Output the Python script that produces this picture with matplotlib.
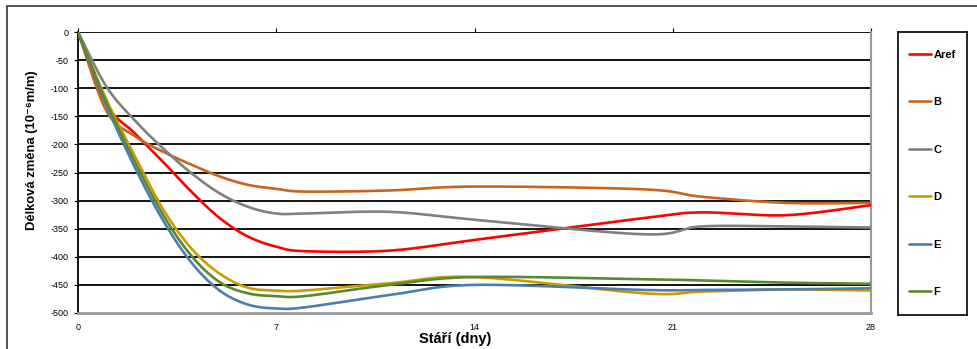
import numpy as np
import matplotlib
matplotlib.use("Agg")
import matplotlib.pyplot as plt
from matplotlib.patches import Rectangle

plt.rcParams['font.family'] = ['Liberation Sans', 'DejaVu Sans']
plt.rcParams['axes.unicode_minus'] = False

# measurement days
days = [0, 1, 2, 3, 4, 5, 6, 7, 8, 11, 14, 20, 22, 25, 28]

# length change (1e-6 m/m) for each mix
aref = [0, -128, -180, -231, -284, -331, -364, -382, -390, -389, -370, -331, -321, -326, -308]
b = [0, -140, -185, -213, -236, -257, -272, -279, -284, -282, -275, -280, -293, -304, -304]
c = [0, -97, -157, -207, -251, -287, -311, -323, -323, -320, -334, -360, -346, -346, -348]
d = [0, -120, -220, -315, -385, -430, -455, -460, -460, -447, -436, -465, -462, -458, -460]
e = [0, -130, -240, -335, -410, -460, -485, -492, -490, -468, -450, -459, -459, -458, -456]
f = [0, -125, -230, -325, -398, -445, -465, -470, -470, -450, -436, -440, -442, -446, -448]

names = ['Aref', 'B', 'C', 'D', 'E', 'F']
series = [aref, b, c, d, e, f]
colors = ['#FF0000', '#C8641E', '#808080', '#CC9B00', '#4A7EB0', '#578A30']

xticks = [0, 7, 14, 21, 28]
yticks = list(range(-500, 1, 50))


def smooth(x, y, n=30):
    # Bezier smoothing through every point (spreadsheet style)
    p = np.column_stack([x, y]).astype(float)
    p = np.vstack([p[0], p, p[-1]])
    out = []
    t = np.linspace(0, 1, n)[:, None]
    for i in range(1, len(p) - 2):
        p0, p3 = p[i], p[i + 1]
        p1 = p0 + (p[i + 1] - p[i - 1]) / 6
        p2 = p3 - (p[i + 2] - p[i]) / 6
        seg = ((1 - t) ** 3) * p0 + 3 * ((1 - t) ** 2) * t * p1 + 3 * (1 - t) * t ** 2 * p2 + t ** 3 * p3
        out.append(seg)
    seg = np.vstack(out)
    return seg[:, 0], seg[:, 1]


W, H = 977, 349
fig = plt.figure(figsize=(W / 100, H / 100), dpi=100)
ax = fig.add_axes([78 / W, 1 - 313 / H, (871 - 78) / W, (313 - 32) / H])

for yv in yticks[1:]:
    ax.axhline(yv, color='black', lw=1.3, zorder=1)

handles = []
for name, vals, col in zip(names, series, colors):
    xs, ys = smooth(days, vals)
    ln, = ax.plot(xs, ys, color=col, lw=1.9, label=name, zorder=3, solid_capstyle='round')
    handles.append(ln)

ax.set_xlim(0, 28)
ax.set_ylim(-500, 0)
ax.set_xticks(xticks)
ax.set_yticks(yticks)
ax.tick_params(axis='x', top=True, bottom=False, labeltop=False, labelbottom=True,
               direction='out', length=3, pad=4, labelsize=6.5, color='black')
ax.tick_params(axis='y', direction='out', length=3, pad=4, labelsize=6.5)

ax.spines['left'].set_color('black')
ax.spines['left'].set_linewidth(1.3)
ax.spines['top'].set_visible(False)
ax.spines['right'].set_color('#999999')
ax.spines['right'].set_linewidth(1.5)
ax.spines['bottom'].set_color('#999999')
ax.spines['bottom'].set_linewidth(2)

ax.set_xlabel('Stáří (dny)', fontsize=10.5, fontweight='bold')
ax.xaxis.set_label_coords((455 - 78) / (871 - 78), -(339 - 313) / (313 - 32))
ax.xaxis.label.set_va('center')
ax.set_ylabel('Délková změna (10⁻⁶m/m)', fontsize=9.4, fontweight='bold')
ax.yaxis.set_label_coords(-(78 - 32) / (871 - 78), (313 - 150) / (313 - 32))
ax.yaxis.label.set_va('center')

# legend panel
lax = fig.add_axes([898 / W, 1 - 315 / H, 69 / W, 283 / H])
lax.set_xticks([])
lax.set_yticks([])
for s in lax.spines.values():
    s.set_color('black')
    s.set_linewidth(1.2)
lax.legend(handles, names, loc='center', frameon=False,
           prop={'weight': 'bold', 'size': 8}, handlelength=2.0,
           handletextpad=0.18, labelspacing=3.37, borderaxespad=0)

# outer chart frame
fig.add_artist(Rectangle((7 / W, -0.2), 1.2, 1 - 6 / H + 0.2, transform=fig.transFigure,
                         fill=False, edgecolor='#333333', lw=1.2))

fig.savefig('out.png', dpi=100)
